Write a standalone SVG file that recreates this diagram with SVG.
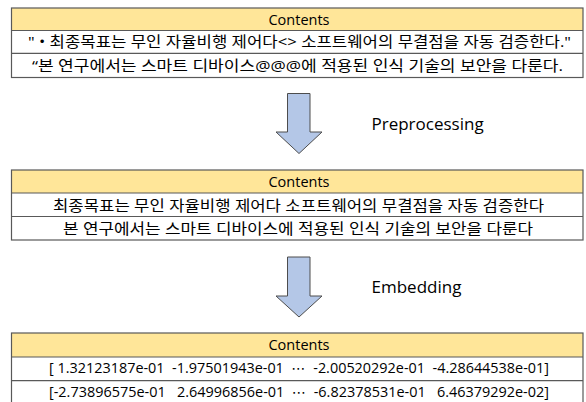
<svg xmlns="http://www.w3.org/2000/svg" width="586" height="402" viewBox="0 0 586 402">
<style>
.hdr{fill:#FFE699;stroke:none}
.row{fill:#FFFFFF;stroke:none}
.frame{fill:none;stroke:#595959;stroke-width:1.2}
.sep{stroke:#595959;stroke-width:1.2}
.h{font-family:"Open Sans","Noto Sans",sans-serif;font-size:14.5px;fill:#000;text-anchor:middle}
.k{font-family:"Open Sans","Noto Sans CJK KR",sans-serif;font-size:15px;fill:#000}
.n{font-family:"Open Sans","Noto Sans","DejaVu Sans",sans-serif;font-size:14px;fill:#000}
.lbl{font-family:"Open Sans","Noto Sans",sans-serif;font-size:17px;fill:#000}
.arr{fill:#B4C7E7;stroke:#4d4d4d;stroke-width:1;stroke-linejoin:miter}
</style>
<rect width="586" height="402" fill="#FFFFFF"/>

<g id="table-raw">
<rect class="hdr" x="11.5" y="8" width="571.5" height="22.5"/>
<rect class="row" x="11.5" y="30.5" width="571.5" height="47"/>
<rect class="frame" x="11.5" y="8" width="571.5" height="69.5"/>
<line class="sep" x1="11.5" y1="30.5" x2="583" y2="30.5"/>
<line class="sep" x1="11.5" y1="53.3" x2="583" y2="53.3"/>
<text class="h" x="299" y="24.5">Contents</text>
<text class="k" x="28" y="46.5" textLength="543" lengthAdjust="spacingAndGlyphs">" • 최종목표는 무인 자율비행 제어다&lt;&gt; 소프트웨어의 무결점을 자동 검증한다."</text>
<text class="k" x="32" y="70.5" textLength="531" lengthAdjust="spacingAndGlyphs">“본 연구에서는 스마트 디바이스@@@에 적용된 인식 기술의 보안을 다룬다.</text>
</g>

<g id="table-clean">
<rect class="hdr" x="11.5" y="170" width="571.5" height="23"/>
<rect class="row" x="11.5" y="193" width="571.5" height="47"/>
<rect class="frame" x="11.5" y="170" width="571.5" height="70"/>
<line class="sep" x1="11.5" y1="193" x2="583" y2="193"/>
<line class="sep" x1="11.5" y1="216.5" x2="583" y2="216.5"/>
<text class="h" x="299" y="187">Contents</text>
<text class="k" x="53" y="210.5" textLength="491" lengthAdjust="spacingAndGlyphs">최종목표는 무인 자율비행 제어다 소프트웨어의 무결점을 자동 검증한다</text>
<text class="k" x="63" y="233.8" textLength="470" lengthAdjust="spacingAndGlyphs">본 연구에서는 스마트 디바이스에 적용된 인식 기술의 보안을 다룬다</text>
</g>

<g id="table-embedding">
<rect class="hdr" x="11.5" y="333" width="571.5" height="24"/>
<rect class="row" x="11.5" y="357" width="571.5" height="47"/>
<rect class="frame" x="11.5" y="333" width="571.5" height="72"/>
<line class="sep" x1="11.5" y1="357" x2="583" y2="357"/>
<line class="sep" x1="11.5" y1="380.7" x2="583" y2="380.7"/>
<text class="h" x="299" y="350">Contents</text>
<text class="n" x="49" y="373" textLength="500" lengthAdjust="spacingAndGlyphs" xml:space="preserve">[ 1.32123187e-01  -1.97501943e-01  ⋯  -2.00520292e-01  -4.28644538e-01]</text>
<text class="n" x="49" y="396.5" textLength="500" lengthAdjust="spacingAndGlyphs" xml:space="preserve">[-2.73896575e-01   2.64996856e-01  ⋯  -6.82378531e-01   6.46379292e-02]</text>
</g>

<g id="connectors">
<polygon class="arr" points="287.5,93.5 310,93.5 310,132 322,132 299,153.5 276,132 287.5,132"/>
<text class="lbl" x="371.5" y="130">Preprocessing</text>
<polygon class="arr" points="287.5,257 310,257 310,296 322,296 299,317 276,296 287.5,296"/>
<text class="lbl" x="371.5" y="292.5">Embedding</text>
</g>
</svg>
